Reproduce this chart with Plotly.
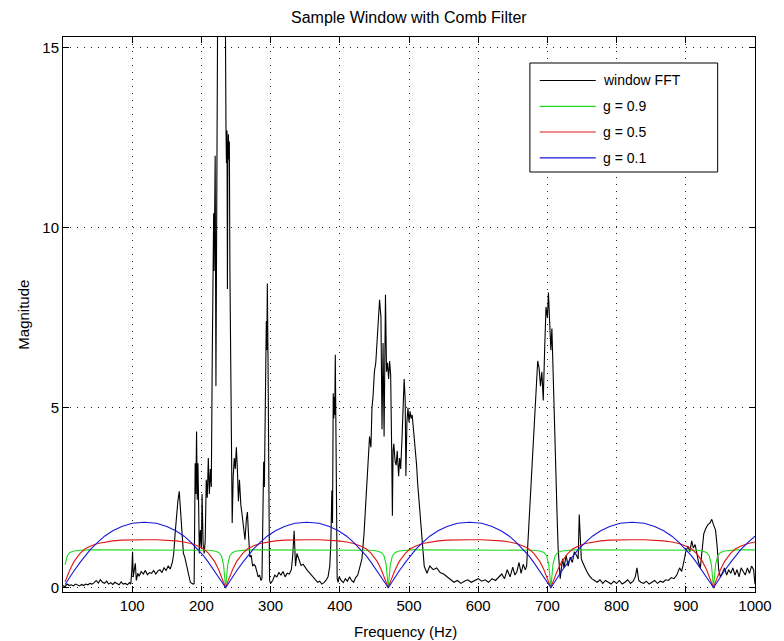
import plotly.graph_objects as go

# ---------------- data ----------------
fft_freq = [
    0, 3, 6, 9, 12, 15, 18, 21, 24, 27, 30, 33, 36, 39, 42, 45, 48, 51, 54, 57,
    60, 63, 66, 69, 72, 75, 78, 81, 84, 87, 90, 93, 96, 98,
    99.5, 100.5, 101.5, 103, 104.5, 106, 108, 110, 113, 116, 119, 122, 125, 128, 131, 134,
    137, 140, 143, 146, 149, 152, 155, 158,
    160, 162, 164, 166, 168, 170, 172, 174, 176, 178, 180, 182, 184, 186, 188, 189.5,
    191, 192, 193, 194, 195, 196, 197, 198.5, 200, 201, 202.5, 204, 205.5, 207, 208.5, 210,
    211.5, 213, 214.3,
    215.7, 217, 217.7, 218.4, 219.1, 219.9, 221, 222.3, 223.7, 226, 229, 232, 234.5, 235.5,
    236.2, 237, 237.6, 238.3, 239, 239.7, 240.4, 241.2, 242.5, 244.5,
    246, 247.5, 249, 250.5, 252, 253.5, 255, 257, 259, 261, 263, 265, 266.5, 268, 270, 272,
    274, 276, 278, 280, 282, 284, 286, 287.5, 289, 290, 291, 292, 293, 293.8, 294.5, 295.3,
    296.2, 297.2, 298.5, 300,
    303, 306, 309, 312, 315, 318, 321, 324, 327, 330, 332, 334, 336, 338, 341, 344, 347, 350,
    353, 356, 359, 362, 365, 368, 371, 374, 377, 380, 383,
    385.5, 387, 388.5, 389.5, 390.5, 391.3, 392, 392.7, 393.5, 394.3, 395.2, 396.2, 397.5, 399,
    402, 405, 408, 411, 414, 417, 420, 423, 426, 429, 432, 435, 437.5, 439.5,
    441.5, 443, 445, 446.5, 448, 450, 452, 454, 456, 457.5, 459.5, 461, 462.5, 464, 466, 467.5,
    469, 470.5, 472, 473.5, 475, 476, 477, 478, 480, 481.5, 483, 485, 486.5, 488, 490, 491.5,
    493, 494.5, 495.5, 497, 498.5, 500, 501.5, 503, 504.5, 506, 507.5, 509, 511, 512.5, 514,
    516, 517.5, 519, 520.5, 522, 524, 526,
    530, 535, 540, 545, 550, 555, 560, 565, 570, 575, 580, 585, 590, 595, 600, 605, 610, 615,
    620, 625, 630, 634, 638, 642, 646, 650, 653, 656, 659, 662, 665, 668,
    670, 672, 674, 676, 678, 680, 682, 684, 686, 688, 690, 692, 694, 696, 698, 700, 701.5, 703,
    705, 706.5, 708, 709.5, 711, 712.5, 714, 715.5, 717, 718.5, 720,
    722, 724, 727, 730, 733, 736, 739, 742, 744.5, 746, 747.5, 749, 751, 754, 757, 760, 764,
    768, 772, 776, 780, 784, 788, 792, 796, 800, 804, 808, 812, 816, 820, 824, 827, 829.5, 832,
    835, 839, 843, 847, 851, 855, 859, 863, 867, 871, 875, 879, 883, 887, 891, 894, 897, 900,
    903, 906, 908.5, 911, 913.5, 916, 918.5, 921, 923.5, 926, 929, 932, 935, 937.5, 940, 943,
    945.5, 947.5, 950, 953, 956, 959, 962, 965, 968, 971, 974, 977, 980, 983, 986, 989, 992,
    995, 998, 1000,
]
fft_mag = [
    0.05, 0.03, 0.10, 0.06, 0.08, 0.05, 0.10, 0.07, 0.05, 0.09, 0.06, 0.10, 0.08, 0.12, 0.10,
    0.14, 0.20, 0.13, 0.22, 0.15, 0.12, 0.18, 0.10, 0.14, 0.09, 0.15, 0.12, 0.08, 0.16, 0.10,
    0.12, 0.08, 0.14, 0.10,
    0.5, 1.0, 0.3, 0.45, 0.68, 0.2, 0.4, 0.32, 0.45, 0.38, 0.48, 0.36, 0.42, 0.40, 0.48, 0.38,
    0.46, 0.50, 0.42, 0.55, 0.48, 0.60, 0.52, 0.70,
    0.95, 1.5, 2.07, 2.4, 2.68, 2.07, 1.33, 0.95, 0.85, 0.67, 0.45, 0.3, 0.15, 0.12, 0.10, 0.11,
    3.46, 2.6, 4.34, 2.44, 3.46, 2.3, 0.95, 1.6, 1.1, 2.6, 1.2, 0.95, 1.3, 3.0, 2.5, 3.6,
    2.6, 3.3, 2.8,
    6.4, 8.6, 10.4, 8.8, 10.3, 12.0, 5.6, 10.4, 17.0, 18.0, 17.5, 18.2, 16.5, 12.8,
    11.8, 12.7, 8.3, 12.1, 12.6, 11.9, 12.4, 8.8, 4.7, 1.8,
    3.1, 3.6, 3.3, 3.9, 3.3, 2.4, 3.0, 2.3, 2.0, 1.7, 1.33, 1.9, 2.1, 1.5, 0.85, 0.9,
    0.6, 0.65, 0.6, 0.45, 0.3, 0.35, 0.2, 0.25, 2.4, 3.5, 2.8, 5.0, 6.3, 7.4, 6.6, 8.45,
    6.5, 1.5, 0.2, 0.12,
    0.2, 0.35, 0.3, 0.42, 0.35, 0.45, 0.3, 0.4, 0.38, 0.5, 0.9, 1.58, 0.6, 0.95, 0.75, 0.62,
    0.65, 0.55, 0.48, 0.42, 0.35, 0.28, 0.22, 0.15, 0.18, 0.1, 0.14, 0.2, 0.3,
    0.6, 1.2, 2.7, 1.8, 5.4, 4.7, 5.3, 4.8, 6.47, 5.0, 3.0, 0.25, 0.15, 0.3,
    0.2, 0.14, 0.25, 0.18, 0.3, 0.2, 0.15, 0.28, 0.35, 0.55, 0.8, 1.5, 2.3, 2.9,
    3.6, 4.2, 3.9, 5.0, 5.3, 6.0, 6.25, 7.0, 7.7, 8.0, 7.5, 4.4, 6.8, 4.2, 8.14, 6.0,
    6.25, 5.8, 6.3, 5.9, 3.8, 2.0, 3.8, 4.0, 3.5, 3.4, 3.8, 3.1, 3.6, 3.3, 4.2, 4.8,
    5.8, 5.2, 3.1, 4.6, 5.0, 4.6, 4.9, 4.7, 4.8, 4.5, 4.2, 3.8, 3.4, 2.9, 2.5,
    2.1, 1.6, 1.25, 0.9, 0.6, 0.5, 0.4,
    0.6, 0.5, 0.55, 0.42, 0.38, 0.3, 0.22, 0.15, 0.2, 0.12, 0.18, 0.22, 0.15, 0.2, 0.25, 0.18,
    0.22, 0.15, 0.25, 0.2, 0.3, 0.38, 0.25, 0.5, 0.3, 0.57, 0.35, 0.45, 0.7, 0.4, 0.65, 0.5,
    0.6, 1.3, 2.0, 2.8, 3.6, 4.2, 4.8, 5.7, 6.3, 6.1, 5.6, 6.0, 5.2, 6.6, 7.8, 7.5, 8.2, 7.5,
    6.6, 7.2, 6.0, 4.9, 3.8, 2.9, 2.0, 1.1, 0.6, 0.25, 0.5,
    0.8, 0.55, 0.9, 0.6, 0.85, 0.7, 1.0, 0.9, 0.8, 2.03, 1.3, 0.8, 0.7, 0.55, 0.45, 0.35, 0.25,
    0.2, 0.15, 0.22, 0.12, 0.2, 0.15, 0.1, 0.18, 0.12, 0.2, 0.1, 0.15, 0.22, 0.12, 0.18, 0.3,
    0.55, 0.2, 0.15, 0.12, 0.18, 0.1, 0.15, 0.2, 0.12, 0.18, 0.15, 0.22, 0.2, 0.28, 0.25,
    0.35, 0.55, 0.45, 0.7, 1.0,
    1.15, 1.0, 1.3, 1.1, 1.2, 0.9, 0.7, 0.55, 1.1, 1.5, 1.65, 1.75, 1.8, 1.9, 1.75, 1.6,
    1.1, 0.5, 0.3, 0.45, 0.55, 0.35, 0.5, 0.4, 0.55, 0.35, 0.5, 0.3, 0.55, 0.45, 0.35, 0.55,
    0.4, 0.6, 0.5, 0.1,
]

comb_freq = [
    3, 6, 10, 16, 25, 32, 40, 50, 60, 72, 85, 100, 117.5,
    135, 150, 163, 175, 185, 195, 203, 210, 219, 225, 229, 232, 235,
    238, 241, 245, 251, 260, 267, 275, 285, 295, 307, 320, 335, 352.5,
    370, 385, 398, 410, 420, 430, 438, 445, 454, 460, 464, 467, 470,
    473, 476, 480, 486, 495, 502, 510, 520, 530, 542, 555, 570, 587.5,
    605, 620, 633, 645, 655, 665, 673, 680, 689, 695, 699, 702, 705,
    708, 711, 715, 721, 730, 737, 745, 755, 765, 777, 790, 805, 822.5,
    840, 855, 868, 880, 890, 900, 908, 915, 924, 930, 934, 937, 940,
    943, 946, 950, 956, 965, 972, 980, 990, 1000,
]
comb_g09 = [
    0.64, 0.88, 0.98, 1.02, 1.04, 1.05, 1.05, 1.05, 1.05, 1.05, 1.05, 1.05, 1.05,
    1.05, 1.05, 1.05, 1.05, 1.05, 1.05, 1.05, 1.04, 1.02, 0.98, 0.88, 0.64, 0.0,
    0.64, 0.88, 0.98, 1.02, 1.04, 1.05, 1.05, 1.05, 1.05, 1.05, 1.05, 1.05, 1.05,
    1.05, 1.05, 1.05, 1.05, 1.05, 1.05, 1.05, 1.04, 1.02, 0.98, 0.88, 0.64, 0.0,
    0.64, 0.88, 0.98, 1.02, 1.04, 1.05, 1.05, 1.05, 1.05, 1.05, 1.05, 1.05, 1.05,
    1.05, 1.05, 1.05, 1.05, 1.05, 1.05, 1.05, 1.04, 1.02, 0.98, 0.88, 0.64, 0.0,
    0.64, 0.88, 0.98, 1.02, 1.04, 1.05, 1.05, 1.05, 1.05, 1.05, 1.05, 1.05, 1.05,
    1.05, 1.05, 1.05, 1.05, 1.05, 1.05, 1.05, 1.04, 1.02, 0.98, 0.88, 0.64, 0.0,
    0.64, 0.88, 0.98, 1.02, 1.04, 1.05, 1.05, 1.05, 1.05,
]
comb_g05 = [
    0.16, 0.31, 0.50, 0.73, 0.96, 1.08, 1.16, 1.23, 1.27, 1.30, 1.32, 1.33, 1.33,
    1.33, 1.32, 1.30, 1.27, 1.23, 1.16, 1.08, 0.96, 0.73, 0.50, 0.31, 0.16, 0.0,
    0.16, 0.31, 0.50, 0.73, 0.96, 1.08, 1.16, 1.23, 1.27, 1.30, 1.32, 1.33, 1.33,
    1.33, 1.32, 1.30, 1.27, 1.23, 1.16, 1.08, 0.96, 0.73, 0.50, 0.31, 0.16, 0.0,
    0.16, 0.31, 0.50, 0.73, 0.96, 1.08, 1.16, 1.23, 1.27, 1.30, 1.32, 1.33, 1.33,
    1.33, 1.32, 1.30, 1.27, 1.23, 1.16, 1.08, 0.96, 0.73, 0.50, 0.31, 0.16, 0.0,
    0.16, 0.31, 0.50, 0.73, 0.96, 1.08, 1.16, 1.23, 1.27, 1.30, 1.32, 1.33, 1.33,
    1.33, 1.32, 1.30, 1.27, 1.23, 1.16, 1.08, 0.96, 0.73, 0.50, 0.31, 0.16, 0.0,
    0.16, 0.31, 0.50, 0.73, 0.96, 1.08, 1.16, 1.23, 1.27,
]
comb_g01 = [
    0.09, 0.18, 0.29, 0.47, 0.71, 0.89, 1.07, 1.26, 1.43, 1.58, 1.70, 1.79, 1.82,
    1.79, 1.70, 1.58, 1.43, 1.26, 1.07, 0.89, 0.71, 0.47, 0.29, 0.18, 0.09, 0.0,
    0.09, 0.18, 0.29, 0.47, 0.71, 0.89, 1.07, 1.26, 1.43, 1.58, 1.70, 1.79, 1.82,
    1.79, 1.70, 1.58, 1.43, 1.26, 1.07, 0.89, 0.71, 0.47, 0.29, 0.18, 0.09, 0.0,
    0.09, 0.18, 0.29, 0.47, 0.71, 0.89, 1.07, 1.26, 1.43, 1.58, 1.70, 1.79, 1.82,
    1.79, 1.70, 1.58, 1.43, 1.26, 1.07, 0.89, 0.71, 0.47, 0.29, 0.18, 0.09, 0.0,
    0.09, 0.18, 0.29, 0.47, 0.71, 0.89, 1.07, 1.26, 1.43, 1.58, 1.70, 1.79, 1.82,
    1.79, 1.70, 1.58, 1.43, 1.26, 1.07, 0.89, 0.71, 0.47, 0.29, 0.18, 0.09, 0.0,
    0.09, 0.18, 0.29, 0.47, 0.71, 0.89, 1.07, 1.26, 1.43,
]

x_ticks = [100, 200, 300, 400, 500, 600, 700, 800, 900, 1000]
y_ticks = [0, 5, 10, 15]

series_names = ["window FFT", "g = 0.9", "g = 0.5", "g = 0.1"]
series_colors = ["#000000", "#1ed81e", "#e01818", "#1818d8"]

assert len(fft_freq) == len(fft_mag)
assert len(comb_freq) == len(comb_g09) == len(comb_g05) == len(comb_g01)

# ---------------- figure ----------------
W, H = 784, 641
L, R, T, B = 63, 17, 37, 49
PW, PH = W - L - R, H - T - B
FONT = "Liberation Sans, Arial, Helvetica, sans-serif"


def px_x(px):
    return (px - L) / PW


def px_y(py):
    return (H - B - py) / PH


fig = go.Figure()
series = [
    (fft_freq, fft_mag),
    (comb_freq, comb_g09),
    (comb_freq, comb_g05),
    (comb_freq, comb_g01),
]
for (xs, ys), name, col in zip(series, series_names, series_colors):
    fig.add_trace(go.Scatter(x=xs, y=ys, mode="lines", name=name,
                             line=dict(color=col, width=1.1), showlegend=False))

axis_common = dict(
    showline=True, linecolor="black", linewidth=1, mirror="ticks",
    ticks="inside", ticklen=6, tickcolor="black", tickwidth=1,
    showgrid=True, gridcolor="#222222", gridwidth=1, griddash="1px,6px",
    zeroline=False, tickfont=dict(family=FONT, size=15, color="black"),
)
fig.update_xaxes(range=[0, 1000], tickvals=x_ticks,
                 ticktext=[str(v) for v in x_ticks], **axis_common)
fig.update_yaxes(range=[-0.12, 15.3], tickvals=y_ticks,
                 ticktext=[str(v) for v in y_ticks], **axis_common)

annotations = [
    dict(text="Sample Window with Comb Filter", x=0.5, y=px_y(18), xref="paper", yref="paper",
         showarrow=False, font=dict(family=FONT, size=16, color="black"),
         xanchor="center", yanchor="middle"),
    dict(text="Frequency (Hz)", x=px_x(411), y=px_y(631), xref="paper", yref="paper",
         showarrow=False, font=dict(family=FONT, size=15, color="black"),
         xanchor="center", yanchor="middle"),
    dict(text="Magnitude", x=px_x(22), y=px_y(315), xref="paper", yref="paper",
         showarrow=False, textangle=-90, font=dict(family=FONT, size=15, color="black"),
         xanchor="center", yanchor="middle"),
]

# custom legend box (MATLAB style)
shapes = [dict(type="rect", xref="paper", yref="paper",
               x0=px_x(538), x1=px_x(729), y0=px_y(63), y1=px_y(172),
               line=dict(color="black", width=1), fillcolor="white", layer="above")]
legend_rows = [80.5, 106.3, 132, 157.8]
for py, name, col in zip(legend_rows, series_names, series_colors):
    shapes.append(dict(type="line", xref="paper", yref="paper",
                       x0=px_x(548), x1=px_x(605), y0=px_y(py), y1=px_y(py),
                       line=dict(color=col, width=1.2), layer="above"))
    annotations.append(dict(text=name, x=px_x(610), y=px_y(py), xref="paper", yref="paper",
                            showarrow=False, xanchor="left", yanchor="middle",
                            font=dict(family=FONT, size=14, color="black")))

fig.update_layout(
    width=W, height=H,
    margin=dict(l=L, r=R, t=T, b=B),
    paper_bgcolor="white", plot_bgcolor="white",
    shapes=shapes, annotations=annotations, showlegend=False,
)

fig.write_html("out.html")
